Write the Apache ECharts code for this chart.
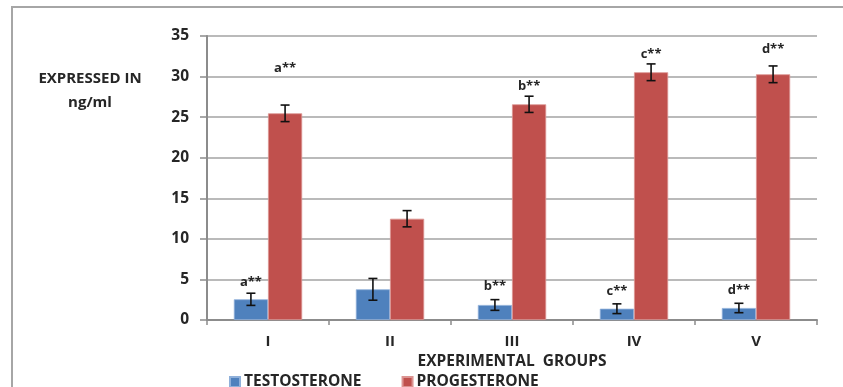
<!DOCTYPE html>
<html>
<head>
<meta charset="utf-8">
<script src="https://cdn.jsdelivr.net/npm/echarts@6/dist/echarts.min.js"></script>
<style>
  html, body { margin: 0; padding: 0; background: #ffffff; }
  #chart { width: 843px; height: 387px; }
</style>
</head>
<body>
<div id="chart"></div>
<script>
// Experimental groups on the x axis
const groups = ['I', 'II', 'III', 'IV', 'V'];
const yTicks = [0, 5, 10, 15, 20, 25, 30, 35];

// Hormone means (ng/ml) and their error half-widths
const testosterone = [2.55, 3.78, 1.85, 1.39, 1.48];
const testosteroneErr = [0.75, 1.34, 0.66, 0.60, 0.58];
const progesterone = [25.47, 12.48, 26.58, 30.53, 30.28];
const progesteroneErr = [1.02, 1.00, 1.00, 1.03, 1.03];

// Significance letters and the value level at which each one sits
const testosteroneNotes = ['a**', '', 'b**', 'c**', 'd**'];
const testosteroneNoteAt = [4.6, null, 4.1, 3.5, 3.6];
const progesteroneNotes = ['a**', '', 'b**', 'c**', 'd**'];
const progesteroneNoteAt = [31.0, null, 28.8, 32.8, 33.4];

const FONT = '"Open Sans", "DejaVu Sans", sans-serif';
const TEXT = '#262626';
const BLUE = '#4F81BD';
const RED = '#C0504D';
const BAR_FRACTION = 0.28;

function errorRows(means, errs) {
  return means.map((m, i) => [i, m - errs[i], m + errs[i]]);
}
function noteRows(levels, notes) {
  return levels.map((v, i) => [i, v == null ? 0 : v, notes[i]]);
}

// Error bar with caps, shifted to the centre of its bar within the group
function makeErrorRenderer(side) {
  return function (params, api) {
    const band = api.size([1, 0])[0];
    const dx = side * band * BAR_FRACTION / 2;
    const lo = api.coord([api.value(0), api.value(1)]);
    const hi = api.coord([api.value(0), api.value(2)]);
    const x = lo[0] + dx;
    const cap = 4.5;
    const style = { stroke: '#111', lineWidth: 1.6 };
    return {
      type: 'group',
      children: [
        { type: 'line', shape: { x1: x, y1: hi[1], x2: x, y2: lo[1] }, style },
        { type: 'line', shape: { x1: x - cap, y1: hi[1], x2: x + cap, y2: hi[1] }, style },
        { type: 'line', shape: { x1: x - cap, y1: lo[1], x2: x + cap, y2: lo[1] }, style }
      ]
    };
  };
}

function makeNoteRenderer(side) {
  return function (params, api) {
    const text = api.value(2);
    if (!text) return null;
    const band = api.size([1, 0])[0];
    const dx = side * band * BAR_FRACTION / 2;
    const p = api.coord([api.value(0), api.value(1)]);
    return {
      type: 'text',
      x: p[0] + dx,
      y: p[1],
      style: {
        text: text,
        fill: TEXT,
        font: 'bold 13px ' + FONT,
        textAlign: 'center',
        textVerticalAlign: 'middle'
      }
    };
  };
}

const chart = echarts.init(document.getElementById('chart'), null, { renderer: 'canvas' });

chart.setOption({
  animation: false,
  textStyle: { fontFamily: FONT },
  graphic: [
    {
      type: 'rect',
      shape: { x: 12, y: 7, width: 900, height: 450 },
      style: { fill: 'none', stroke: '#a6a6a6', lineWidth: 2 },
      silent: true
    },
    {
      type: 'text',
      x: 90,
      y: 91,
      style: {
        text: 'EXPRESSED IN\nng/ml',
        fill: TEXT,
        font: 'bold 15px ' + FONT,
        textAlign: 'center',
        textVerticalAlign: 'middle',
        lineHeight: 24
      }
    }
  ],
  grid: { left: 207, right: 26, top: 36, bottom: 67, containLabel: false },
  legend: {
    left: 229,
    top: 374,
    padding: 0,
    itemWidth: 10,
    itemHeight: 10,
    itemGap: 40,
    icon: 'rect',
    data: ['TESTOSTERONE', 'PROGESTERONE'],
    textStyle: { fontFamily: FONT, fontWeight: 'bold', fontSize: 15.5, color: TEXT, padding: [0, 0, 0, -1] }
  },
  xAxis: {
    type: 'category',
    data: groups,
    name: 'EXPERIMENTAL  GROUPS',
    nameLocation: 'middle',
    nameGap: 33,
    nameTextStyle: { fontFamily: FONT, fontWeight: 'bold', fontSize: 15.5, color: TEXT },
    axisLine: { lineStyle: { color: '#8c8c8c', width: 2 } },
    axisTick: { show: true, length: 5, lineStyle: { color: '#8c8c8c', width: 1.5 } },
    axisLabel: { fontFamily: FONT, fontWeight: 'bold', fontSize: 15, color: TEXT, margin: 14 },
    splitLine: { show: false }
  },
  yAxis: {
    type: 'value',
    min: yTicks[0],
    max: yTicks[yTicks.length - 1],
    interval: yTicks[1] - yTicks[0],
    axisLine: { show: true, lineStyle: { color: '#8c8c8c', width: 2 } },
    axisTick: { show: true, length: 7, lineStyle: { color: '#8c8c8c', width: 1.5 } },
    axisLabel: { fontFamily: FONT, fontWeight: 'bold', fontSize: 15.5, color: TEXT, margin: 18 },
    splitLine: { lineStyle: { color: '#a3a3a3', width: 1.6 } }
  },
  series: [
    {
      name: 'TESTOSTERONE',
      type: 'bar',
      data: testosterone,
      barWidth: (BAR_FRACTION * 100) + '%',
      barGap: '0%',
      itemStyle: { color: BLUE, borderColor: '#8fb0da', borderWidth: 0.8 }
    },
    {
      name: 'PROGESTERONE',
      type: 'bar',
      data: progesterone,
      barWidth: (BAR_FRACTION * 100) + '%',
      barGap: '0%',
      itemStyle: { color: RED, borderColor: '#dc9492', borderWidth: 0.8 }
    },
    {
      type: 'custom',
      renderItem: makeErrorRenderer(-1),
      data: errorRows(testosterone, testosteroneErr),
      z: 5, silent: true
    },
    {
      type: 'custom',
      renderItem: makeErrorRenderer(1),
      data: errorRows(progesterone, progesteroneErr),
      z: 5, silent: true
    },
    {
      type: 'custom',
      renderItem: makeNoteRenderer(-1),
      data: noteRows(testosteroneNoteAt, testosteroneNotes),
      z: 6, silent: true
    },
    {
      type: 'custom',
      renderItem: makeNoteRenderer(1),
      data: noteRows(progesteroneNoteAt, progesteroneNotes),
      z: 6, silent: true
    }
  ]
});
</script>
</body>
</html>
